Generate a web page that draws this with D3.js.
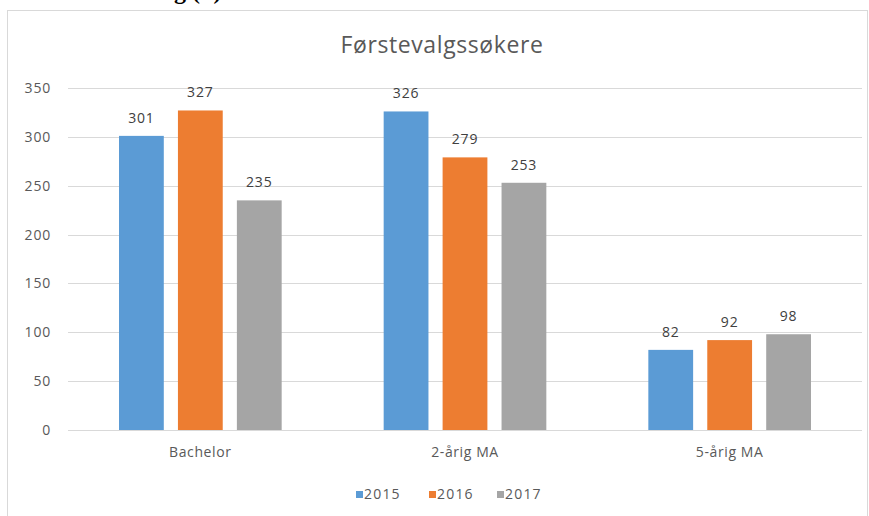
<!DOCTYPE html>
<html><head><meta charset="utf-8">
<script src="https://cdn.jsdelivr.net/npm/d3@7"></script>
<style>body{margin:0;background:#fff}svg{display:block}</style>
</head><body>
<svg id="c" width="869" height="516"></svg>
<script>
const categories = ["Bachelor", "2-årig MA", "5-årig MA"];
const seriesNames = ["2015", "2016", "2017"];
const v2015 = [301, 326, 82];
const v2016 = [327, 279, 92];
const v2017 = [235, 253, 98];
const yTicks = [0, 50, 100, 150, 200, 250, 300, 350];
const colors = ["#5B9BD5", "#ED7D31", "#A5A5A5"];
const title = "Førstevalgssøkere";

(function () {
const series = [v2015, v2016, v2017];
const svg = d3.select("#c");
const font = "'Open Sans', 'Noto Sans', sans-serif";

// clipped heading fragment above the chart (only descenders visible)
svg.append("text").attr("x", 102).attr("y", -1).attr("font-family", "'Liberation Serif', serif")
  .attr("font-weight", "bold").attr("font-size", 24).attr("fill", "#000").text("Søkning (n)");

// chart border
svg.append("rect").attr("x", 7.5).attr("y", 10.5).attr("width", 860).attr("height", 530)
  .attr("fill", "#fff").attr("stroke", "#D9D9D9");

const pl = 68, pr = 862, pt = 88, pb = 430;
const x0 = d3.scaleBand().domain(categories).range([pl, pr]).paddingInner(0).paddingOuter(0);
const x1 = d3.scaleBand().domain(seriesNames).range([51, x0.bandwidth() - 51]).paddingInner(0.24).paddingOuter(0);
const y = d3.scaleLinear().domain([0, 350]).range([pb, pt]);

// gridlines
svg.append("g").selectAll("line").data(yTicks).join("line")
  .attr("x1", pl).attr("x2", pr)
  .attr("y1", d => Math.round(y(d)) + 0.5).attr("y2", d => Math.round(y(d)) + 0.5)
  .attr("stroke", "#D9D9D9").attr("stroke-width", 1);

// y axis labels
const yAxis = d3.axisLeft(y).tickValues(yTicks).tickSize(0).tickPadding(0);
const ya = svg.append("g").attr("transform", `translate(${pl - 17},0)`).call(yAxis);
ya.select(".domain").remove();
ya.selectAll("text").attr("font-family", font).attr("font-size", 14).attr("letter-spacing", 0.8)
  .attr("fill", "#595959");

// bars
const groups = svg.append("g").selectAll("g").data(categories).join("g")
  .attr("transform", d => `translate(${x0(d)},0)`);
groups.each(function(cat, ci) {
  const g = d3.select(this);
  seriesNames.forEach((s, si) => {
    const val = series[si][ci];
    g.append("rect").attr("x", x1(s)).attr("width", x1.bandwidth())
      .attr("y", y(val)).attr("height", y(0) - y(val)).attr("fill", colors[si]);
    g.append("text").attr("x", x1(s) + x1.bandwidth() / 2).attr("y", y(val) - 13)
      .attr("text-anchor", "middle").attr("font-family", font).attr("font-size", 14)
      .attr("letter-spacing", 0.8).attr("fill", "#404040").text(val);
  });
});

// x axis labels
const xAxis = d3.axisBottom(x0).tickSize(0).tickPadding(0);
const xa = svg.append("g").attr("transform", `translate(0,${pb + 17})`).call(xAxis);
xa.select(".domain").remove();
xa.selectAll("text").attr("font-family", font).attr("font-size", 14).attr("letter-spacing", 0.6)
  .attr("fill", "#595959");

// title
svg.append("text").attr("x", 442).attr("y", 53).attr("text-anchor", "middle")
  .attr("font-family", font).attr("font-size", 23).attr("letter-spacing", 0.6)
  .attr("fill", "#595959").text(title);

// legend
const legX = [356, 429, 497];
const leg = svg.append("g");
seriesNames.forEach((s, i) => {
  leg.append("rect").attr("x", legX[i]).attr("y", 491).attr("width", 7).attr("height", 7).attr("fill", colors[i]);
  leg.append("text").attr("x", legX[i] + 8).attr("y", 499).attr("font-family", font)
    .attr("font-size", 14).attr("letter-spacing", 1.2).attr("fill", "#595959").text(s);
});
})();
</script>
</body></html>
